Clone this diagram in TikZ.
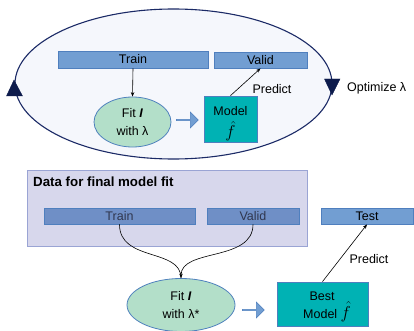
\documentclass[tikz,border=0pt]{standalone}
\usepackage{fontspec}
\setmainfont{Liberation Sans}
\usetikzlibrary{shapes.geometric,shapes.arrows,arrows.meta}
\definecolor{navy}{HTML}{1B2A66}
\definecolor{loopfill}{HTML}{F5F7FC}
\definecolor{barfill}{HTML}{729ED2}
\definecolor{barline}{HTML}{4F7FBE}
\definecolor{barfillB}{HTML}{6F8FC6}
\definecolor{bartextB}{HTML}{30374F}
\definecolor{fitfill}{HTML}{B3DFC9}
\definecolor{fitline}{HTML}{4F81BD}
\definecolor{teal}{HTML}{00B2B4}
\definecolor{lav}{HTML}{D7D7EC}
\definecolor{lavline}{HTML}{9AA4D4}
\definecolor{trifill}{HTML}{0D1B4C}
\newcommand{\fhat}{{\fontsize{17}{17}\selectfont$\hat{f}$}}
\tikzset{
  txt/.style={font=\fontsize{12.5}{14}\selectfont, inner sep=0pt},
  bar/.style={txt, rectangle, fill=barfill, draw=barline, line width=0.8pt, minimum height=16pt},
  barB/.style={bar, fill=barfillB, text=bartextB},
  fitnode/.style={txt, ellipse, fill=fitfill, draw=fitline, line width=0.8pt, align=center},
  modelbox/.style={txt, rectangle, fill=teal, draw=barline, line width=0.8pt},
  blockarrow/.style={single arrow, fill=barfill, draw=barline, line width=0.6pt, minimum width=16pt, minimum height=22pt, single arrow head extend=3.5pt, inner sep=0pt},
  conn/.style={-{Stealth[length=4.5pt,width=3.5pt]}, line width=0.6pt, black},
  tri/.style={fill=trifill, draw=trifill, line join=miter}
}
\begin{document}
\begin{tikzpicture}[x=1pt,y=-1pt]
\useasboundingbox (0,0) rectangle (414,331);
% optimization loop
\draw[navy, line width=1.1pt, fill=loopfill] (173.5,84) ellipse [x radius=158.5, y radius=75];
\fill[tri] (14,80) -- (22.5,96) -- (6.5,96) -- cycle;
\fill[tri] (324.5,79) -- (340,79) -- (332,95) -- cycle;
\node[txt, anchor=west] (opt) at (347,88) {Optimize λ};
% top part
\node[bar, minimum width=150pt, minimum height=17pt] (train) at (133,59.5) {Train};
\node[bar, minimum width=93pt] (valid) at (260.5,60) {Valid};
\node[fitnode, minimum width=77pt, minimum height=50pt] (fit) at (132.5,122) {Fit \textbf{\textit{I}}\\[4pt]with λ};
\node[modelbox, minimum width=53pt, minimum height=46pt] (model) at (230.5,119) {};
\node[txt, anchor=base] (modeltxt) at (230.5,116) {Model};
\node[txt, anchor=base] (modelf) at (230.5,138) {\fhat};
\node[blockarrow] (arr1) at (187,120) {};
\node[txt] (pred1) at (272,89) {Predict};
\draw[conn] (train.south) -- (fit.north);
\draw[conn] (model.north) -- (valid.south);
% final model fit
\node[rectangle, fill=lav, draw=lavline, line width=0.8pt, minimum width=280pt, minimum height=76pt, inner sep=0pt] (databox) at (167,208) {};
\node[txt, anchor=west, font=\fontsize{13.3}{15}\selectfont\bfseries] (datatxt) at (33,182) {Data for final model fit};
\node[barB, minimum width=151pt] (train2) at (119.5,216) {Train};
\node[barB, minimum width=92pt] (valid2) at (253,216) {Valid};
\node[bar, minimum width=92pt] (test) at (367,216) {Test};
\node[fitnode, minimum width=108pt, minimum height=53pt] (fit2) at (181,305) {Fit \textbf{\textit{I}}\\[4pt]with λ*};
\node[blockarrow] (arr2) at (253,310) {};
\node[modelbox, minimum width=91pt, minimum height=44pt] (best) at (322.5,304) {};
\node[txt, anchor=base] (besttxt) at (322,300) {Best};
\node[txt, anchor=base west] (bestmodel) at (303,318) {Model \fhat};
\node[txt] (pred2) at (369,259) {Predict};
\draw[line width=0.6pt] (train2.south) .. controls (119.5,262) and (181,248) .. (181,278);
\draw[conn] (valid2.south) .. controls (253,262) and (181,248) .. (fit2.north);
\draw[conn] (best.north) -- (test.south);
\end{tikzpicture}
\end{document}
